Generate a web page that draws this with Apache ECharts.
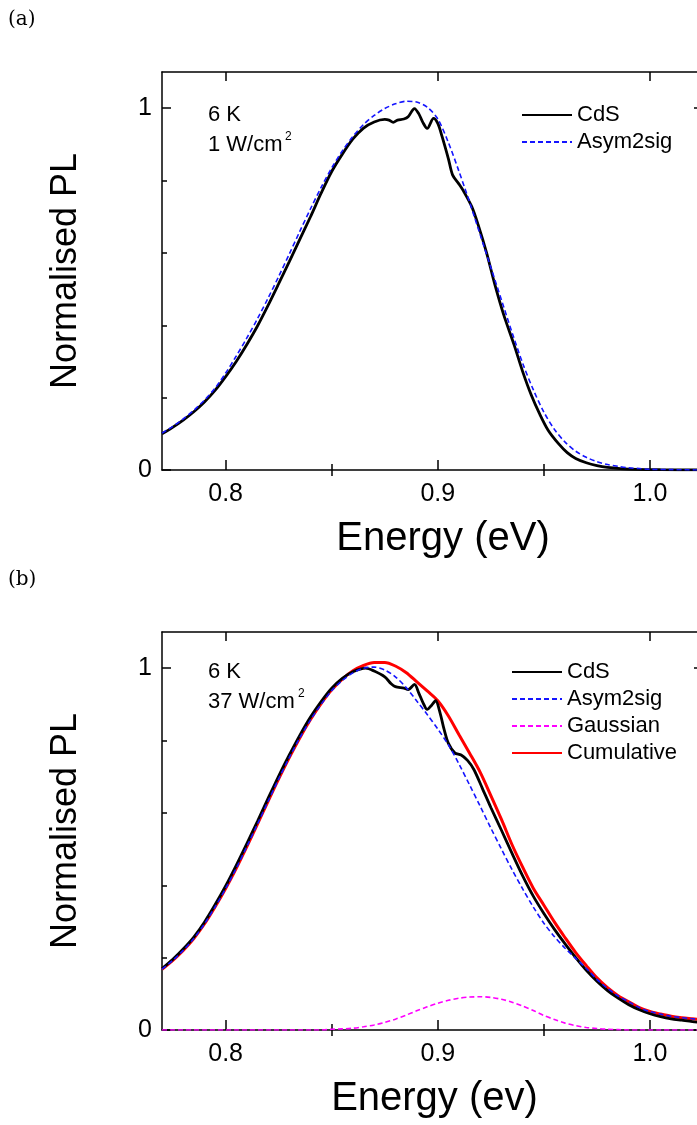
<!DOCTYPE html>
<html>
<head>
<meta charset="utf-8">
<script src="https://cdn.jsdelivr.net/npm/echarts@6/dist/echarts.min.js"></script>
<style>
html, body { margin: 0; padding: 0; background: #fff; }
#chart { width: 697px; height: 1125px; }
</style>
</head>
<body>
<div id="chart"></div>
<script>
// axis ranges and tick values
const xMin = 0.77, xMax = 1.025;
const yMin = 0, yMax = 1.1;
const xMajor = [0.8, 0.9, 1.0];
const xMinor = [0.85, 0.95];
const yMajor = [0, 1];
const yMinor = [0.2, 0.4, 0.6, 0.8];

// panel (a): 6 K, 1 W/cm2
const energyCdsA = [0.770,0.775,0.780,0.785,0.790,0.795,0.800,0.805,0.810,0.815,0.820,0.825,0.830,0.835,0.840,0.845,0.850,0.855,0.860,0.865,0.870,0.875,0.877,0.879,0.881,0.884,0.886,0.889,0.891,0.893,0.895,0.898,0.900,0.902,0.905,0.907,0.910,0.912,0.916,0.919,0.923,0.927,0.931,0.936,0.940,0.944,0.948,0.952,0.957,0.961,0.965,0.970,0.975,0.980,0.986,0.994,1.005,1.025];
const cdsA = [0.100,0.118,0.138,0.161,0.188,0.220,0.258,0.300,0.347,0.398,0.455,0.515,0.576,0.638,0.700,0.765,0.825,0.873,0.915,0.945,0.962,0.969,0.967,0.961,0.967,0.970,0.976,0.999,0.985,0.960,0.944,0.972,0.958,0.922,0.860,0.815,0.790,0.772,0.728,0.678,0.600,0.510,0.430,0.345,0.272,0.208,0.155,0.110,0.072,0.048,0.032,0.020,0.012,0.007,0.004,0.002,0.001,0.000];
const energyFitA = [0.770,0.775,0.780,0.785,0.790,0.795,0.800,0.805,0.810,0.815,0.820,0.825,0.830,0.835,0.840,0.845,0.850,0.855,0.860,0.865,0.870,0.875,0.880,0.885,0.890,0.895,0.900,0.905,0.910,0.915,0.920,0.925,0.930,0.935,0.940,0.945,0.950,0.955,0.960,0.965,0.970,0.975,0.980,0.985,0.990,0.995,1.000,1.010,1.025];
const asymA = [0.102,0.120,0.141,0.165,0.193,0.226,0.268,0.315,0.365,0.418,0.475,0.535,0.597,0.660,0.722,0.781,0.835,0.882,0.922,0.955,0.980,0.999,1.012,1.019,1.017,1.003,0.970,0.905,0.825,0.740,0.650,0.560,0.470,0.380,0.295,0.222,0.160,0.112,0.077,0.052,0.035,0.023,0.015,0.010,0.006,0.004,0.002,0.001,0.000];

// panel (b): 6 K, 37 W/cm2
const energyCdsB = [0.770,0.775,0.780,0.785,0.790,0.795,0.800,0.805,0.810,0.815,0.820,0.825,0.830,0.835,0.840,0.845,0.850,0.855,0.860,0.866,0.870,0.875,0.878,0.880,0.884,0.886,0.889,0.891,0.893,0.895,0.897,0.899,0.901,0.903,0.905,0.908,0.911,0.914,0.917,0.921,0.925,0.930,0.935,0.940,0.945,0.950,0.955,0.960,0.965,0.970,0.975,0.980,0.985,0.990,0.995,1.000,1.005,1.010,1.015,1.020,1.025];
const cdsB = [0.170,0.195,0.224,0.257,0.298,0.346,0.398,0.455,0.515,0.577,0.640,0.702,0.760,0.815,0.865,0.908,0.945,0.972,0.990,1.000,0.992,0.976,0.957,0.949,0.945,0.941,0.955,0.932,0.905,0.886,0.897,0.910,0.878,0.830,0.792,0.766,0.760,0.745,0.720,0.668,0.615,0.552,0.488,0.426,0.370,0.322,0.278,0.238,0.200,0.165,0.135,0.109,0.088,0.070,0.056,0.045,0.037,0.031,0.027,0.023,0.021];
const energyFitB = [0.770,0.775,0.780,0.785,0.790,0.795,0.800,0.805,0.810,0.815,0.820,0.825,0.830,0.835,0.840,0.845,0.850,0.855,0.860,0.865,0.870,0.875,0.880,0.885,0.890,0.895,0.900,0.905,0.910,0.915,0.920,0.925,0.930,0.935,0.940,0.945,0.950,0.955,0.960,0.965,0.970,0.975,0.980,0.985,0.990,0.995,1.000,1.005,1.010,1.015,1.020,1.025];
const asymB = [0.168,0.192,0.220,0.253,0.293,0.340,0.391,0.447,0.507,0.569,0.632,0.694,0.753,0.808,0.857,0.900,0.938,0.966,0.987,1.000,1.003,0.995,0.976,0.947,0.910,0.872,0.832,0.788,0.735,0.677,0.618,0.558,0.500,0.443,0.390,0.340,0.295,0.258,0.226,0.198,0.170,0.140,0.115,0.094,0.078,0.062,0.051,0.044,0.038,0.034,0.031,0.028];
const gaussB = [0,0,0,0,0,0,0,0,0,0,0,0,0,0,0,0,0.002,0.003,0.005,0.009,0.014,0.021,0.030,0.041,0.053,0.064,0.074,0.082,0.088,0.091,0.092,0.090,0.085,0.077,0.066,0.054,0.040,0.029,0.019,0.012,0.007,0.004,0.002,0.001,0,0,0,0,0,0,0,0];
const cumulB = [0.168,0.192,0.220,0.253,0.293,0.340,0.391,0.447,0.507,0.569,0.632,0.694,0.753,0.808,0.858,0.902,0.940,0.970,0.993,1.008,1.016,1.016,1.006,0.988,0.963,0.937,0.910,0.868,0.816,0.765,0.712,0.648,0.582,0.512,0.450,0.392,0.345,0.298,0.255,0.214,0.178,0.144,0.117,0.095,0.078,0.062,0.051,0.044,0.038,0.034,0.031,0.028];

const FONT = 'Liberation Sans, Arial, sans-serif';
const panelTops = [72, 632];
const titles = ['Energy (eV)', 'Energy (ev)'];
const titleShift = [21, 4];
const plotLeft = 162, plotWidth = 541, plotHeight = 398;

function pairs(xs, ys) {
  return xs.map((x, i) => [x, ys[i]]);
}

let grids = [], xAxes = [], yAxes = [];
const black = {color: '#000', width: 1.5};

panelTops.forEach(function(top, p) {
  // main grid carries the axis lines and major ticks, twin grid the minor ticks
  for (let k = 0; k < 2; k++) {
    grids.push({left: plotLeft, top: top, width: plotWidth, height: plotHeight, outerBoundsMode: 'none'});
  }
  let g = p * 2;
  xAxes.push({
    gridIndex: g, type: 'value', position: 'bottom', min: xMin, max: xMax,
    axisLine: {show: true, onZero: false, lineStyle: black},
    axisTick: {show: true, inside: true, length: 10, customValues: xMajor, lineStyle: black},
    axisLabel: {show: true, customValues: xMajor, margin: 12, fontSize: 25, color: '#000', fontFamily: FONT,
      formatter: function(v) { return v.toFixed(1); }},
    splitLine: {show: false},
    name: titles[p], nameLocation: 'middle', nameGap: 49,
    nameTextStyle: {fontSize: 40, color: '#000', fontFamily: FONT, padding: [0, 0, 0, titleShift[p]]}
  });
  xAxes.push({
    gridIndex: g, type: 'value', position: 'top', min: xMin, max: xMax,
    axisLine: {show: true, onZero: false, lineStyle: black},
    axisTick: {show: true, inside: true, length: 9, customValues: xMajor, lineStyle: black},
    axisLabel: {show: false}, splitLine: {show: false}
  });
  ['bottom', 'top'].forEach(function(pos) {
    xAxes.push({
      gridIndex: g + 1, type: 'value', position: pos, min: xMin, max: xMax,
      axisLine: {show: false},
      axisTick: {show: true, inside: true, length: 6, customValues: xMinor, lineStyle: black},
      axisLabel: {show: false}, splitLine: {show: false}
    });
  });
  yAxes.push({
    gridIndex: g, type: 'value', position: 'left', min: yMin, max: yMax,
    axisLine: {show: true, onZero: false, lineStyle: black},
    axisTick: {show: true, inside: true, length: 9, customValues: yMajor, lineStyle: black},
    axisLabel: {show: true, customValues: yMajor, margin: 10, fontSize: 25, color: '#000', fontFamily: FONT},
    splitLine: {show: false},
    name: 'Normalised PL', nameLocation: 'middle', nameGap: 78,
    nameTextStyle: {fontSize: 36, color: '#000', fontFamily: FONT}
  });
  yAxes.push({
    gridIndex: g, type: 'value', position: 'right', min: yMin, max: yMax,
    axisLine: {show: true, onZero: false, lineStyle: black},
    axisTick: {show: true, inside: true, length: 9, customValues: yMajor, lineStyle: black},
    axisLabel: {show: false}, splitLine: {show: false}
  });
  ['left', 'right'].forEach(function(pos) {
    yAxes.push({
      gridIndex: g + 1, type: 'value', position: pos, min: yMin, max: yMax,
      axisLine: {show: false},
      axisTick: {show: true, inside: true, length: 5, customValues: yMinor, lineStyle: black},
      axisLabel: {show: false}, splitLine: {show: false}
    });
  });
});

// axis index of the main bottom x / left y axis of each panel
const xa = [0, 4], ya = [0, 4];

function line(name, panel, data, color, width, dashed, z) {
  return {
    name: name, type: 'line', xAxisIndex: xa[panel], yAxisIndex: ya[panel],
    data: data, symbol: 'none', smooth: 0.3, z: z,
    lineStyle: {color: color, width: width, type: dashed ? [5, 3] : 'solid'},
    itemStyle: {color: color}
  };
}

const series = [
  line('CdS', 0, pairs(energyCdsA, cdsA), '#000', 2.8, false, 3),
  line('Asym2sig', 0, pairs(energyFitA, asymA), '#1414ff', 1.6, true, 4),
  line('Cumulative', 1, pairs(energyFitB, cumulB), '#ff0000', 3, false, 2),
  line('CdS', 1, pairs(energyCdsB, cdsB), '#000', 2.8, false, 3),
  line('Asym2sig', 1, pairs(energyFitB, asymB), '#1414ff', 1.6, true, 4),
  line('Gaussian', 1, pairs(energyFitB, gaussB), '#ff00ff', 1.6, true, 5)
];

function legend(names, left, top) {
  return {
    data: names, orient: 'vertical', left: left, top: top, padding: 0,
    itemWidth: 50, itemHeight: 14, itemGap: 5, selectedMode: false,
    itemStyle: {color: 'rgba(0,0,0,0)', borderWidth: 0, opacity: 0},
    textStyle: {fontSize: 22, lineHeight: 22, color: '#000', fontFamily: FONT}
  };
}

function note(text, x, y, size, family) {
  return {
    type: 'text', left: x, top: y, z: 10,
    style: {text: text, fontSize: size, fill: '#000', fontFamily: family || FONT}
  };
}

const option = {
  animation: false,
  backgroundColor: '#fff',
  grid: grids,
  xAxis: xAxes,
  yAxis: yAxes,
  legend: [
    legend(['CdS', 'Asym2sig'], 521, 104),
    legend(['CdS', 'Asym2sig', 'Gaussian', 'Cumulative'], 511, 661)
  ],
  graphic: [
    note('(a)', 8, 10, 20, 'DejaVu Serif'),
    note('(b)', 8, 570, 20, 'DejaVu Serif'),
    note('6 K', 208, 104, 22),
    note('1 W/cm', 208, 134, 22),
    note('2', 285, 131, 12),
    note('6 K', 208, 661, 22),
    note('37 W/cm', 208, 691, 22),
    note('2', 298, 688, 12)
  ],
  series: series
};

const chart = echarts.init(document.getElementById('chart'), null, {renderer: 'canvas'});
chart.setOption(option);
</script>
</body>
</html>
